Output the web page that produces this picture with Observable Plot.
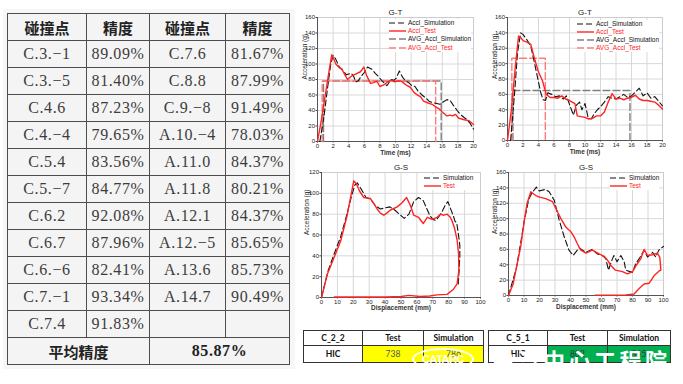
<!DOCTYPE html>
<html><head><meta charset="utf-8">
<script src="https://cdn.jsdelivr.net/npm/d3@7"></script>
<script src="https://cdn.jsdelivr.net/npm/@observablehq/plot@0.6"></script>
<style>
html,body{margin:0;padding:0;background:#fff;}
#page{position:relative;width:683px;height:384px;overflow:hidden;background:#fff;}
#panel{position:absolute;left:3px;top:9px;width:292px;height:360px;background:#f7f7f7;}
#tbl{position:absolute;left:7px;top:13px;width:282px;border-collapse:collapse;table-layout:fixed;background:#f4f4f4;}
#tbl td{border:1.5px solid #4d4d4d;height:25px;padding:0;text-align:center;font-family:"Liberation Serif","Noto Sans CJK SC",serif;font-size:16px;color:#3c3c3c;letter-spacing:0.6px;white-space:nowrap;}
#tbl td.h{font-family:"Noto Sans CJK SC",sans-serif;font-weight:bold;font-size:15px;color:#222;letter-spacing:0;}
#tbl td.b{font-weight:bold;color:#222;}
.chart{position:absolute;}
.legend{position:absolute;background:#fff;font-family:"Liberation Sans",Arial,sans-serif;font-size:6.5px;line-height:8px;}
.legend div{display:flex;align-items:center;height:8px;white-space:nowrap;}
.legend svg{margin-right:2px;flex:none;}
.ht{position:absolute;border-collapse:collapse;table-layout:fixed;font-family:Lato,"Liberation Sans",sans-serif;font-size:8.5px;}
.ht td{border:1px solid #333;padding:0;text-align:center;color:#111;}
.ht tr.r1 td{height:14px;font-weight:bold;}
.ht tr.r2 td{height:16px;}
.ht td.k{font-weight:bold;}
.ht td.y{background:#ffff00;color:#555;}
.ht td.g{background:#00b050;color:#333;}
#logo{position:absolute;left:412px;top:348px;width:58px;height:18px;border:2.5px solid #fff;border-radius:50%;color:#fff;font:bold 11px "Liberation Sans",Arial,sans-serif;text-align:center;line-height:18px;letter-spacing:-0.5px;}
#wm{position:absolute;left:492px;top:343px;color:#fff;font:bold 22px "Noto Sans CJK SC",sans-serif;letter-spacing:3.5px;white-space:nowrap;}
</style></head>
<body><div id="page"><div id="panel"></div></div>
<script>
// ---------- left table data ----------
const pointsA = ["C.3.−1","C.3.−5","C.4.6","C.4.−4","C.5.4","C.5.−7","C.6.2","C.6.7","C.6.−6","C.7.−1","C.7.4"];
const accA = [89.09,81.40,87.23,79.65,83.56,84.77,92.08,87.96,82.41,93.34,91.83];
const pointsB = ["C.7.6","C.8.8","C.9.−8","A.10.−4","A.11.0","A.11.8","A.12.1","A.12.−5","A.13.6","A.14.7"];
const accB = [81.67,87.99,91.49,78.03,84.37,80.21,84.37,85.65,85.73,90.49];
const headers = ["碰撞点","精度","碰撞点","精度"];
const avgLabel = "平均精度";
const avgAcc = 85.87;

// ---------- chart data: [x, acceleration g] ----------
const gt1Test = [[0,0],[0.5,28],[1.0,60],[1.5,92],[1.83,112],[2.1,106],[2.35,100],[2.8,95],[3.1,94],[3.4,88],[3.85,80],[4.3,84],[4.9,87],[5.5,90],[5.95,96],[6.3,85],[6.8,75],[7.2,76],[7.6,78],[8.0,71],[8.5,73],[9.0,77],[9.5,79],[9.9,77],[10.3,78],[10.7,78],[11.1,75],[11.5,72],[11.9,70],[12.4,63],[12.8,60],[13.2,58],[13.6,52],[14.1,50],[14.7,48],[15.1,45],[15.6,42],[16.0,38],[16.6,33],[17.0,34],[17.3,33],[17.7,35],[18.1,30],[18.5,29],[18.8,28],[19.4,27],[20.0,22]];
const gt1Sim = [[0.3,0],[0.8,30],[1.3,70],[1.7,100],[2.0,111],[2.3,107],[2.8,96],[3.1,93],[3.4,90],[3.7,86],[4.0,87],[4.3,88],[4.6,85],[4.9,77],[5.2,78],[5.6,84],[6.0,89],[6.4,96],[7.0,93],[7.4,88],[7.8,84],[8.3,78],[8.9,72],[9.4,80],[9.8,79],[10.1,82],[10.5,91],[10.9,83],[11.3,78],[11.7,76],[12.1,72],[12.5,71],[12.9,65],[13.4,60],[13.9,56],[14.3,52],[14.8,50],[15.3,49],[15.7,48],[16.1,51],[16.6,54],[17.0,53],[17.4,47],[17.9,40],[18.3,35],[18.8,31],[19.2,28],[19.6,23],[20.0,16]];
const gt1AvgSim = [[0.77,0],[0.77,78],[15.86,78],[15.86,0]];
const gt1AvgTest = [[0.6,0],[0.6,78],[15.15,78],[15.15,0]];

const gt2Test = [[0,0],[0.5,40],[1.0,95],[1.43,136],[1.7,134],[2.0,130],[2.5,128],[3.0,125],[3.5,106],[4.0,89],[4.5,78],[5.0,60],[5.5,56],[6.0,56],[6.5,55],[7.0,58],[7.5,54],[8.0,52],[8.7,48],[9.0,32],[9.5,31],[10.0,30],[10.5,28],[11.0,29],[11.5,32],[12.0,32],[12.5,37],[13.0,50],[13.5,61],[14.0,54],[14.5,55],[15.0,53],[15.5,55],[16.0,56],[16.5,59],[17.0,54],[17.5,52],[18.0,52],[18.5,51],[19.0,50],[19.5,46],[20.0,41]];
const gt2Sim = [[0.4,0],[0.9,60],[1.3,115],[1.7,140],[2.0,138],[2.5,131],[3.0,123],[3.5,100],[4.0,76],[4.3,62],[4.6,53],[4.9,52],[5.2,62],[5.7,60],[6.2,57],[6.7,58],[7.2,54],[7.6,58],[8.0,47],[8.5,33],[8.9,46],[9.3,50],[9.6,40],[10.0,48],[10.4,30],[10.8,28],[11.2,35],[11.6,40],[12.0,44],[12.5,50],[13.0,57],[13.5,55],[14.0,54],[14.5,57],[15.0,60],[15.5,56],[16.0,58],[16.5,63],[17.0,68],[17.5,58],[18.0,62],[18.5,55],[19.0,57],[19.5,51],[20.0,45]];
const gt2AvgSim = [[0.7,0],[0.7,65],[15.8,65],[15.8,0]];
const gt2AvgTest = [[0.56,0],[0.56,107],[4.88,107],[4.88,0]];

const gs1Test = [[0,0],[3.6,22],[7.8,38],[12,54],[16,78],[19.3,104],[20.3,112],[22,109],[24,102],[26.6,96],[30.8,95],[33,90],[35,85],[37,81],[39.2,79],[41,81],[43.4,84],[47.6,87],[50.7,91],[53.5,96],[56,88],[58,79],[61,77],[64,71],[66.5,77],[69.6,75],[72.7,77],[74.8,80],[77,79],[79,80],[81,77],[82,74],[83.6,67],[85.3,55],[86.2,42],[86.4,26],[85.3,13],[83,8],[79,3],[72.7,2.5],[68,1.5],[62,1],[55,2],[50,1],[40,0.5],[30,0.5],[20,0.5],[8,0.5]];
const gs1Sim = [[0,0],[4,25],[8,42],[12,58],[16,80],[19,98],[21,108],[22.5,110],[25,104],[28,96],[31,94],[34,88],[37,85],[40,86],[43,87],[46,84],[49,80],[52,76],[55,80],[58,92],[61,96],[64,93],[66,86],[68,79],[70,75],[72,74],[74,78],[76,83],[78,89],[79.5,92],[81,86],[83,78],[84,73],[85,72],[86,62],[87,50],[87,40],[86.5,25],[86,13]];

const gs2Test = [[0,0],[3,15],[5,35],[8,65],[10,95],[12,120],[14.4,135],[17.6,130],[20,128],[24,126],[28.4,122],[31.6,109],[33.8,100],[37,89],[40.2,83],[42.4,76],[44.5,67],[46.7,59],[50,55],[54,59],[58.5,54],[61.7,51],[63.9,46],[66,39],[69,33],[73.5,31],[76.8,28],[80,31],[83,41],[85.4,48],[87.5,60],[89.7,52],[92.9,53],[96,55],[97.6,50],[98.3,33],[97.2,32],[94,26],[90.8,16],[87.5,15],[84.3,9],[81,2],[75,0.5],[70,0.5],[62,0.5],[56,0.5]];
const gs2Sim = [[0,0],[5,35],[8,70],[10,95],[13,125],[15,133],[18,141],[19.8,136],[23.7,138],[26.2,135],[29.5,124],[32.7,98],[36,76],[39,59],[41.7,52],[45.6,62],[50,56],[54,60],[57.4,54],[60.6,52],[62.8,48],[64.5,33],[66.7,46],[68,52],[70,44],[72.5,52],[74.6,44],[75.7,33],[80,30],[82,41],[85,50],[87.5,59],[89.7,50],[93,56],[95,50],[97,59],[100,64]];

// ---------- bottom tables ----------
const hicCases = ["C_2_2","C_5_1"];
const hicHead = ["Test","Simulation"];
const hicTest = [738, 802];
const hicSim = [786, 845];

// ---------- styles ----------
const S = {
  test: {stroke:"#ff2424", strokeWidth:1.4},
  sim: {stroke:"#111", strokeWidth:1.1, strokeDasharray:"6,3"},
  avgSim: {stroke:"#808080", strokeWidth:1.4, strokeDasharray:"7,3"},
  avgTest: {stroke:"#ff7a7a", strokeWidth:1.4, strokeDasharray:"7,3"}
};

const page = document.getElementById("page");

// left table
(function(){
  const t = document.createElement("table"); t.id="tbl";
  t.innerHTML = '<colgroup><col style="width:79px"><col style="width:63px"><col style="width:76px"><col style="width:64px"></colgroup>';
  const hr = t.insertRow(); hr.style.height="27px";
  headers.forEach(h=>{const c=hr.insertCell(); c.className="h"; c.textContent=h;});
  for (let i=0;i<pointsA.length;i++){
    const r=t.insertRow(); r.style.height="27px";
    r.insertCell().textContent=pointsA[i];
    r.insertCell().textContent=accA[i].toFixed(2)+"%";
    r.insertCell().textContent= i<pointsB.length ? pointsB[i] : "";
    r.insertCell().textContent= i<accB.length ? accB[i].toFixed(2)+"%" : "";
  }
  const ar=t.insertRow(); ar.style.height="27px";
  const a1=ar.insertCell(); a1.colSpan=2; a1.className="h"; a1.textContent=avgLabel;
  const a2=ar.insertCell(); a2.colSpan=2; a2.className="b"; a2.textContent=avgAcc.toFixed(2)+"%";
  page.appendChild(t);
})();

function chart(o){
  const p = Plot.plot({
    width:o.w, height:o.h, marginLeft:o.ml, marginRight:o.mr, marginTop:o.mt, marginBottom:o.mb,
    style:{fontFamily:"'Liberation Sans',Arial,sans-serif", fontSize:"6px", color:"#222", background:"transparent", overflow:"visible"},
    x:{domain:o.xd, label:null},
    y:{domain:o.yd, label:null},
    marks:[
      Plot.gridX(o.xt,{stroke:"#d8d8d8", strokeOpacity:1}),
      Plot.gridY(o.yt,{stroke:"#d8d8d8", strokeOpacity:1}),
      Plot.frame({stroke:"#cccccc"}),
      Plot.axisX(o.xt,{tickSize:1.5, tickPadding:1, label:null, stroke:"#444", fontSize:6}),
      Plot.axisY(o.yt,{tickSize:1.5, tickPadding:1, label:null, stroke:"#444", fontSize:6}),
      Plot.ruleX([o.xd[0]],{stroke:"#555", strokeWidth:1}),
      Plot.ruleY([o.yd[0]],{stroke:"#555", strokeWidth:1}),
      ...o.series.map(s=>Plot.line(s.data,{x:d=>d[0], y:d=>d[1], ...s.style, curve:"linear"})),
      Plot.text([o.title],{frameAnchor:"top", dy:-3, lineAnchor:"bottom", fontSize:8, fill:"#222"}),
      Plot.text([o.xl],{frameAnchor:"bottom", dy:o.xdy, lineAnchor:"middle", fontSize:6.5, fontWeight:"bold", fill:"#333"}),
      Plot.text(["Acceleration (g)"],{frameAnchor:"left", rotate:-90, dx:o.ydx, fontSize:6.5, fill:"#222"})
    ]
  });
  p.classList.add("chart");
  p.style.left=o.left+"px"; p.style.top=o.top+"px";
  page.appendChild(p);
  // legend
  const lg=document.createElement("div"); lg.className="legend";
  lg.style.left=o.lgx+"px"; lg.style.top=o.lgy+"px";
  o.legend.forEach(e=>{
    const row=document.createElement("div");
    row.style.height=o.lgh+"px";
    row.innerHTML=`<svg width="17" height="4"><line x1="0" y1="2" x2="17" y2="2" stroke="${e.style.stroke}" stroke-width="${e.style.strokeWidth}" ${e.style.strokeDasharray?`stroke-dasharray="${e.style.strokeDasharray}"`:""}/></svg><span style="color:${e.color}">${e.label}</span>`;
    lg.appendChild(row);
  });
  page.appendChild(lg);
}

const tT = d3.range(0,21,2), tA = d3.range(0,161,20);
const dX = d3.range(0,101,10), dA120 = d3.range(0,121,20);

const gtLegend = [
  {label:"Accl_Simulation", color:"#111", style:S.sim},
  {label:"Accl_Test", color:"#ff2424", style:S.test},
  {label:"AVG_Accl_Simulation", color:"#111", style:S.avgSim},
  {label:"AVG_Accl_Test", color:"#ff2424", style:S.avgTest}
];
const gsLegend = [
  {label:"Simulation", color:"#111", style:S.sim},
  {label:"Test", color:"#ff2424", style:S.test}
];

chart({left:297, top:4, w:190, h:158, ml:20, mr:14, mt:13, mb:21, xd:[0,20], yd:[0,160], xt:tT, yt:tA,
  title:"G-T", xl:"Time (ms)", xdy:11.5, ydx:-13,
  series:[{data:gt1AvgSim,style:S.avgSim},{data:gt1AvgTest,style:S.avgTest},{data:gt1Sim,style:S.sim},{data:gt1Test,style:S.test}],
  legend:gtLegend, lgx:389, lgy:19, lgh:8.2});
chart({left:487, top:4, w:196, h:158, ml:20, mr:21, mt:13, mb:22, xd:[0,20], yd:[0,160], xt:tT, yt:tA,
  title:"G-T", xl:"Time (ms)", xdy:11.5, ydx:-13,
  series:[{data:gt2AvgSim,style:S.avgSim},{data:gt2AvgTest,style:S.avgTest},{data:gt2Sim,style:S.sim},{data:gt2Test,style:S.test}],
  legend:gtLegend, lgx:577, lgy:20, lgh:8});
chart({left:297, top:159, w:190, h:160, ml:24, mr:7, mt:13, mb:22, xd:[0,100], yd:[0,120], xt:dX, yt:dA120,
  title:"G-S", xl:"Displacement (mm)", xdy:10.5, ydx:-15,
  series:[{data:gs1Sim,style:S.sim},{data:gs1Test,style:S.test}],
  legend:gsLegend, lgx:424, lgy:174, lgh:8});
chart({left:487, top:159, w:196, h:160, ml:21, mr:20, mt:13, mb:24, xd:[0,100], yd:[0,160], xt:dX, yt:tA,
  title:"G-S", xl:"Displacement (mm)", xdy:11.5, ydx:-14,
  series:[{data:gs2Sim,style:S.sim},{data:gs2Test,style:S.test}],
  legend:gsLegend, lgx:610, lgy:174, lgh:8});

// bottom HIC tables
[[303,[59,61,60],"y"],[488,[59,60,63],"g"]].forEach(([x,cw,cls],i)=>{
  const t=document.createElement("table"); t.className="ht";
  t.style.left=x+"px"; t.style.top="330px"; t.style.width=(cw[0]+cw[1]+cw[2])+"px";
  t.innerHTML=`<colgroup>${cw.map(w=>`<col style="width:${w}px">`).join("")}</colgroup>`;
  const r1=t.insertRow(); r1.className="r1";
  [hicCases[i],...hicHead].forEach(h=>{r1.insertCell().textContent=h;});
  const r2=t.insertRow(); r2.className="r2";
  const k=r2.insertCell(); k.className="k"; k.textContent="HIC";
  const a=r2.insertCell(); a.className=cls; a.textContent=hicTest[i];
  const b=r2.insertCell(); b.className=cls; b.textContent=hicSim[i];
  page.appendChild(t);
});

// watermark
const logo=document.createElement("div"); logo.id="logo"; logo.textContent="CATARC"; page.appendChild(logo);
const wm=document.createElement("div"); wm.id="wm"; wm.textContent="中汽中心工程院"; page.appendChild(wm);
</script>
</body></html>
